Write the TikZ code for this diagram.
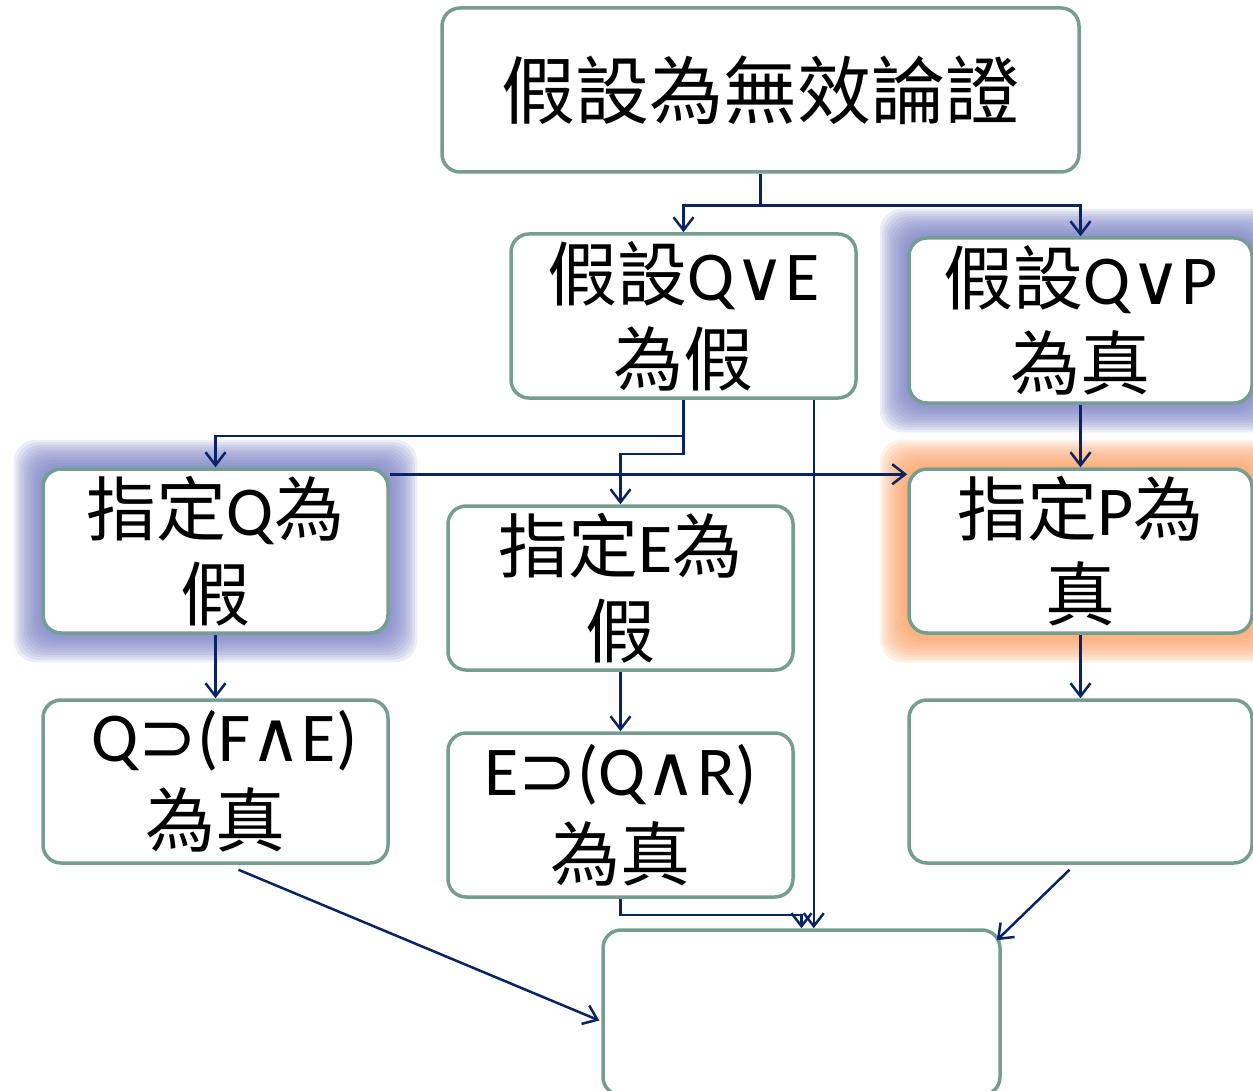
\documentclass[tikz,border=0pt]{standalone}
\usepackage{fontspec}
\setmainfont{Carlito}
\newfontfamily\cjk{Noto Sans CJK TC}
\newfontfamily\sym{DejaVu Sans}
\usetikzlibrary{arrows.meta,calc,backgrounds}
\definecolor{bordc}{RGB}{118,157,146}
\definecolor{arrc}{RGB}{10,35,100}
\definecolor{glowblue}{RGB}{120,128,195}
\definecolor{gloworange}{RGB}{252,160,100}
\newcommand\myglow[2]{%
  \foreach \i in {1,...,11}{%
    \fill[#2, opacity=0.14, rounded corners=22pt]
      ($(#1.south west)+(-\i*2.5,\i*2.5)$) rectangle ($(#1.north east)+(\i*2.5,-\i*2.5)$);
  }%
}
\tikzset{
  box/.style={draw=bordc, line width=3.5pt, rounded corners=18pt, fill=white,
    inner sep=0pt, align=center, font=\fontsize{70}{85}\selectfont},
  conn/.style={draw=arrc, line width=2.5pt, -{Straight Barb[length=13pt,width=20pt,line width=2.5pt]}}
}
\begin{document}
\begin{tikzpicture}[x=1pt,y=-1pt]
\useasboundingbox (0,0) rectangle (1253,1091);
\node[box, minimum width=637pt, minimum height=164pt, font=\fontsize{74}{85}\selectfont] (T) at (760.5,90) {\cjk 假設為無效論證};
\node[box, minimum width=345pt, minimum height=164pt] (B1) at (683.5,316) {{\cjk 假設}Q{\sym ∨}E\\{\cjk 為假}};
\node[box, minimum width=343pt, minimum height=165pt] (B2) at (1080.5,320.5) {{\cjk 假設}Q{\sym ∨}P\\{\cjk 為真}};
\node[box, minimum width=345pt, minimum height=164pt] (C1) at (215.5,551) {{\cjk 指定}Q{\cjk 為}\\{\cjk 假}};
\node[box, minimum width=345pt, minimum height=164pt] (C2) at (620.5,588) {{\cjk 指定}E{\cjk 為}\\{\cjk 假}};
\node[box, minimum width=343pt, minimum height=164pt] (C3) at (1080.5,551) {{\cjk 指定}P{\cjk 為}\\{\cjk 真}};
\node[box, minimum width=345pt, minimum height=163pt] (D1) at (215.5,781.5) {\hspace*{18pt}Q{\sym ⊃}(F{\sym ∧}E)\\{\cjk 為真}};
\node[box, minimum width=345pt, minimum height=164pt] (D2) at (620.5,815) {E{\sym ⊃}(Q{\sym ∧}R)\\{\cjk 為真}};
\node[box, minimum width=343pt, minimum height=163pt] (D3) at (1080.5,781.5) {};
\node[box, minimum width=397pt, minimum height=165pt] (E) at (801.5,1012.5) {};
\begin{scope}[on background layer]
  \myglow{B2}{glowblue}
  \myglow{C1}{glowblue}
  \myglow{C3}{gloworange}
\end{scope}
% connectors
\draw[conn] (T.south) -- ++(0,32) -| (B1.north);
\draw[conn] (T.south) -- ++(0,32) -| (B2.north);
\draw[conn] (B1.south) -- ++(0,36) -| (C1.north);
\draw[conn] (B1.south) -- ++(0,54) -| (C2.north);
\coordinate (b1x) at ($(B1.south east)+(-44,0)$);
\draw[conn] (b1x) -- (b1x |- E.north);
\coordinate (c1r) at ($(C1.north east)+(0,7)$);
\draw[conn] (c1r) -- (c1r -| C3.west);
\draw[conn] (B2.south) -- (C3.north);
\draw[conn] (C1.south) -- (D1.north);
\draw[conn] (C2.south) -- (D2.north);
\draw[conn] (C3.south) -- (D3.north);
\draw[conn] (D2.south) -- ++(0,16) -| (E.north);
\draw[conn] ($(D1.south)+(23,5)$) -- ($(E.west)+(-2,8)$);
\draw[conn] ($(D3.south)+(-11,5)$) -- ($(E.north east)+(-5,12)$);
\end{tikzpicture}
\end{document}
